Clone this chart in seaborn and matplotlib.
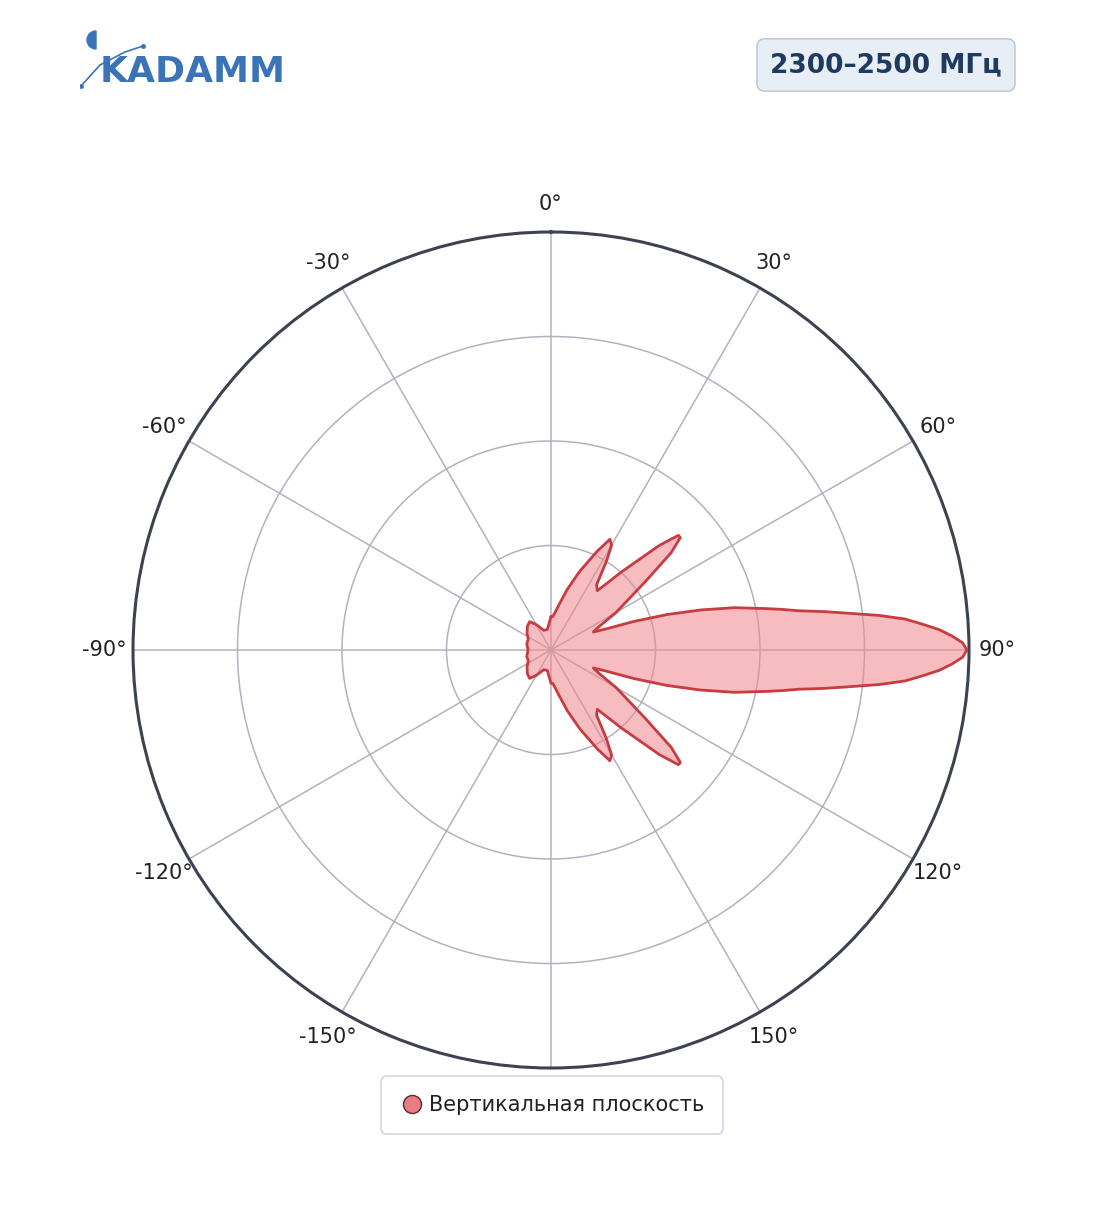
import numpy as np
import matplotlib
matplotlib.use("Agg")
import matplotlib.pyplot as plt
import seaborn as sns
from matplotlib.patches import Wedge

# upper-right half of the pattern (deg, clockwise from top) -> relative level
front_deg = [0, 3, 6, 10, 15, 20, 25, 28, 30, 32, 35, 38, 42, 46, 48, 49, 51, 54, 60, 65, 67,
             69, 71, 73, 75, 77, 79, 80, 81, 82, 83, 84, 85, 86, 87, 88, 89, 90]
front_r = [0.08, 0.08, 0.09, 0.11, 0.15, 0.20, 0.26, 0.30, 0.29, 0.25, 0.19, 0.18, 0.25, 0.36, 0.41,
           0.41, 0.37, 0.28, 0.18, 0.12, 0.11, 0.14, 0.21, 0.29, 0.37, 0.45, 0.52, 0.56, 0.60, 0.66,
           0.72, 0.79, 0.85, 0.89, 0.93, 0.96, 0.985, 0.995]
# back half, -10 .. -90 deg (mirrored for -90 .. -170)
back_deg = [-10, -20, -30, -37, -45, -55, -65, -75, -90]
back_r = [0.05, 0.05, 0.07, 0.085, 0.08, 0.07, 0.06, 0.06, 0.055]

tick_deg = [0, 30, 60, 90, 120, 150, 180, 210, 240, 270, 300, 330]
tick_lbl = ["0°", "30°", "60°", "90°", "120°", "150°", "", "-150°", "-120°", "-90°", "-60°", "-30°"]

# full closed curve going clockwise 0 -> 360
angles = list(front_deg) + [180 - d for d in front_deg[::-1][1:]]
levels = list(front_r) + list(front_r[::-1][1:])
angles += [180 - d for d in back_deg]          # 190 .. 270
levels += list(back_r)
angles += [360 + d for d in back_deg[::-1][1:]]  # 285 .. 350
levels += list(back_r[::-1][1:])
angles.append(360)
levels.append(front_r[0])
theta = np.deg2rad(angles)
rad = np.array(levels)

sns.set_style("white")
plt.rcParams['font.family'] = ['DejaVu Sans']
fig = plt.figure(figsize=(11.04, 12.11), dpi=100)
ax = fig.add_axes([133 / 1104, 143 / 1211, 836 / 1104, 836 / 1211], projection='polar')
ax.set_theta_zero_location('N')
ax.set_theta_direction(-1)
ax.set_ylim(0, 1)
ax.set_yticks([0.25, 0.5, 0.75, 1.0])
ax.set_yticklabels([])
ax.set_thetagrids(tick_deg, tick_lbl, fontsize=15, color='#222222')
ax.tick_params(axis='x', pad=10)
ax.grid(color='#b0b3c0', linewidth=1.1)
ax.spines['polar'].set_color('#3d4250')
ax.spines['polar'].set_linewidth(2.2)

ax.fill(theta, rad, color='#f1868b', alpha=0.55, zorder=3)
sns.lineplot(x=theta, y=rad, sort=False, color='#c83c41', linewidth=2, ax=ax, zorder=4)

# legend
h = plt.Line2D([], [], marker='o', linestyle='none', markersize=13,
               markerfacecolor='#e87c80', markeredgecolor='#5a2a2e')
leg = fig.legend([h], ['Вертикальная плоскость'], loc='center', bbox_to_anchor=(0.5, 1 - 1105 / 1211),
                 fontsize=15, frameon=True, handletextpad=0.2, handlelength=1.2, borderpad=0.7)
leg.get_frame().set_edgecolor('#c8ccd6')
leg.get_frame().set_linewidth(1.2)
leg.get_frame().set_boxstyle('round,pad=0.2,rounding_size=0.3')
for t in leg.get_texts():
    t.set_color('#222222')

# title box
fig.text(886 / 1104, 1 - 65 / 1211, '2300–2500 МГц', fontsize=19, fontweight='bold', color='#1f3a5f',
         ha='center', va='center',
         bbox=dict(boxstyle='round,pad=0.5,rounding_size=0.3', facecolor='#e8eef5', edgecolor='#b8c4d4'))

# logo
fig.text(100 / 1104, 1 - 72 / 1211, 'KADAMM', fontsize=26, fontweight='bold', color='#3a74b6',
         ha='left', va='center')
lax = fig.add_axes([80 / 1104, 1 - 90 / 1211, 70 / 1104, 62 / 1211])
lax.set_xlim(0, 70)
lax.set_ylim(0, 62)
lax.axis('off')
lax.add_patch(Wedge((16, 50), 9, 90, 270, color='#3a74b6'))
lax.plot([1, 20, 45, 63], [4, 25, 38, 44], color='#3a74b6', linewidth=1.2)
lax.plot([1, 63], [4, 44], 'o', color='#3a74b6', markersize=2.5)

fig.savefig('out.png', dpi=100)
